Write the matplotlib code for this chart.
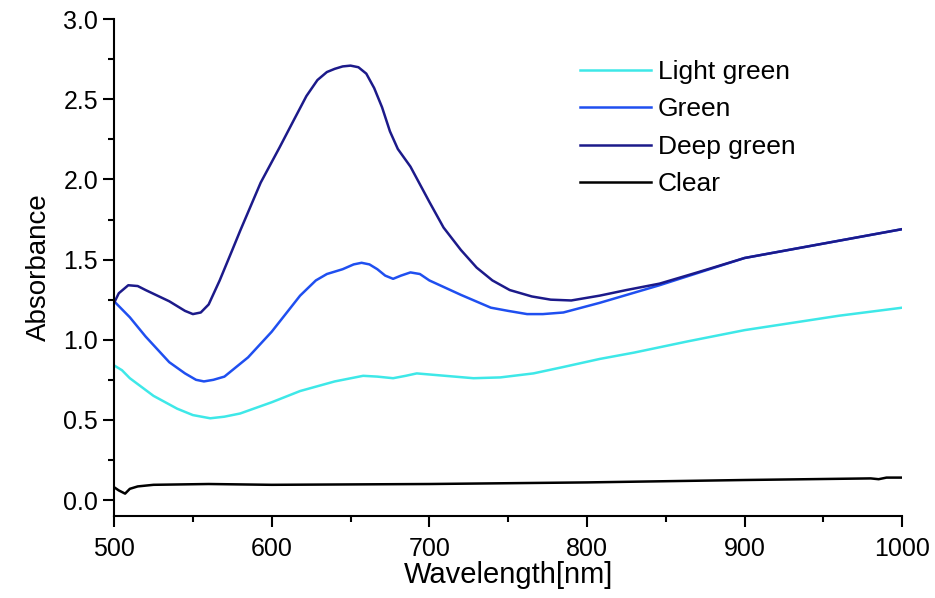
import numpy as np
import matplotlib.pyplot as plt
from matplotlib.ticker import MultipleLocator

# datos
wl_deep = [500, 503, 509, 515, 520, 535, 545, 550, 555, 560, 567, 575, 580, 593, 605, 614,
           622, 629, 635, 640, 645, 650, 655, 660, 665, 670, 675, 680, 688, 700, 709,
           720, 730, 740, 751, 765, 777, 790, 808, 825, 846, 870, 900, 950, 1000]
deep_green = [1.23, 1.29, 1.34, 1.335, 1.31, 1.24, 1.18, 1.16, 1.17, 1.22, 1.37, 1.56,
              1.68, 1.98, 2.20, 2.37, 2.52, 2.62, 2.67, 2.69, 2.705, 2.71, 2.70, 2.66,
              2.57, 2.45, 2.30, 2.19, 2.08, 1.86, 1.70, 1.56, 1.45, 1.37, 1.31, 1.27,
              1.25, 1.245, 1.275, 1.31, 1.35, 1.42, 1.51, 1.60, 1.69]

wl_green = [500, 510, 520, 535, 545, 552, 557, 563, 570, 585, 600, 618, 628, 635, 645,
            652, 657, 662, 667, 672, 677, 682, 688, 694, 700, 720, 739, 750, 762, 772,
            785, 808, 846, 900, 950, 1000]
green = [1.24, 1.14, 1.02, 0.86, 0.79, 0.75, 0.74, 0.75, 0.77, 0.89, 1.05, 1.275, 1.37,
         1.41, 1.44, 1.47, 1.48, 1.47, 1.44, 1.40, 1.38, 1.40, 1.42, 1.41, 1.37, 1.28,
         1.20, 1.18, 1.16, 1.16, 1.17, 1.23, 1.34, 1.51, 1.60, 1.69]

wl_light = [500, 505, 510, 525, 540, 550, 561, 570, 580, 600, 618, 640, 658, 667, 677,
            685, 692, 710, 728, 745, 766, 785, 808, 830, 864, 900, 930, 960, 1000]
light_green = [0.84, 0.81, 0.76, 0.65, 0.57, 0.53, 0.51, 0.52, 0.54, 0.61, 0.68, 0.74,
               0.775, 0.77, 0.76, 0.775, 0.79, 0.775, 0.76, 0.765, 0.79, 0.83, 0.88, 0.92,
               0.99, 1.06, 1.105, 1.15, 1.20]

wl_clear = [500, 503, 507, 510, 515, 525, 560, 600, 700, 800, 900, 980, 985, 990, 1000]
clear = [0.08, 0.06, 0.04, 0.07, 0.085, 0.095, 0.10, 0.095, 0.10, 0.11, 0.125, 0.135,
         0.13, 0.14, 0.14]

plt.rcParams['font.family'] = ['Liberation Sans', 'DejaVu Sans']

fig = plt.figure(figsize=(9.35, 5.98), dpi=100)
ax = fig.add_axes([0.122, 0.137, 0.843, 0.831])

ax.plot(wl_light, light_green, color='#3ee8e8', lw=1.8, label='Light green')
ax.plot(wl_green, green, color='#1f4ff0', lw=1.8, label='Green')
ax.plot(wl_deep, deep_green, color='#1c1a8a', lw=1.8, label='Deep green')
ax.plot(wl_clear, clear, color='black', lw=1.8, label='Clear')

ax.set_xlim(500, 1000)
ax.set_ylim(-0.1, 3.0)
ax.xaxis.set_major_locator(MultipleLocator(100))
ax.xaxis.set_minor_locator(MultipleLocator(50))
ax.yaxis.set_major_locator(MultipleLocator(0.5))
ax.yaxis.set_minor_locator(MultipleLocator(0.25))
ax.yaxis.set_major_formatter(plt.FormatStrFormatter('%.1f'))
ax.tick_params(which='major', length=8, width=1.5, labelsize=18, direction='out')
ax.tick_params(which='minor', length=4, width=1.5, direction='out')
ax.tick_params(axis='x', pad=7)

for s in ['top', 'right']:
    ax.spines[s].set_visible(False)
for s in ['left', 'bottom']:
    ax.spines[s].set_linewidth(1.5)

ax.set_xlabel('Wavelength[nm]', fontsize=21, labelpad=0)
ax.set_ylabel('Absorbance', fontsize=20, labelpad=8)

ax.legend(loc='upper left', bbox_to_anchor=(0.591, 0.918), frameon=False, fontsize=19,
          handlelength=2.7, handletextpad=0.25, labelspacing=0.51, borderaxespad=0,
          borderpad=0)

fig.savefig('out.png', dpi=100)
